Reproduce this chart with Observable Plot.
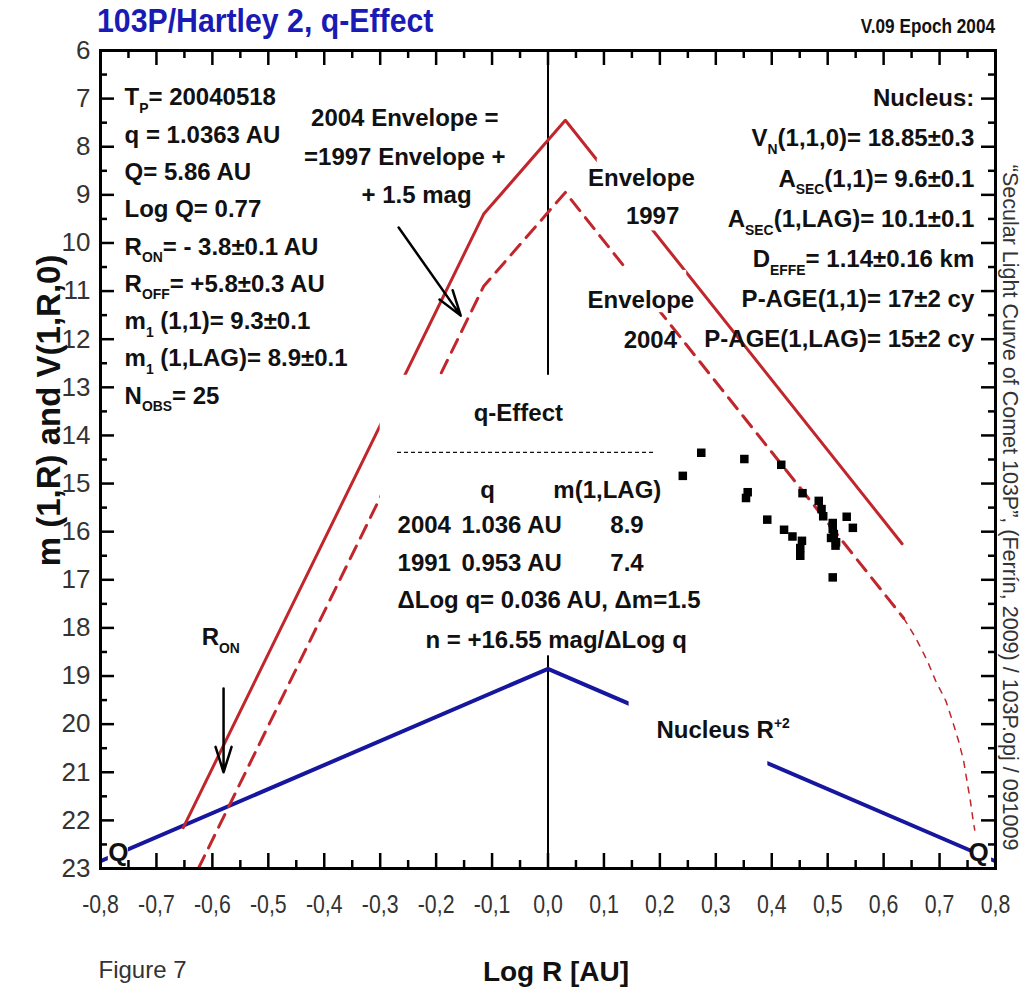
<!DOCTYPE html>
<html><head><meta charset="utf-8">
<script src="https://cdn.jsdelivr.net/npm/d3@7"></script>
<script src="https://cdn.jsdelivr.net/npm/@observablehq/plot@0.6"></script>
<style>
body{margin:0;background:#fff;width:1021px;height:999px;overflow:hidden;position:relative}
#head{position:absolute;left:0;top:0;width:1021px;height:40px;z-index:2;font-family:"Liberation Sans",Arial,sans-serif;pointer-events:none}
#title{position:absolute;left:97px;top:3px;font-size:34px;line-height:1;font-weight:bold;color:#1a1ab4;white-space:nowrap;transform:scaleX(0.89);transform-origin:0 0}
#ver{position:absolute;right:26px;top:16px;font-size:20px;line-height:1;font-weight:bold;color:#111;white-space:nowrap;transform:scaleX(0.86);transform-origin:100% 0}
</style></head><body>
<div id="head"><span id="title">103P/Hartley 2, q-Effect</span><span id="ver">V.09 Epoch 2004</span></div>
<div id="chart"></div>
<script>
// ---------- data ----------
const xTicks = [-0.8,-0.7,-0.6,-0.5,-0.4,-0.3,-0.2,-0.1,0,0.1,0.2,0.3,0.4,0.5,0.6,0.7,0.8];
const xMinorTicks = [-0.75,-0.65,-0.55,-0.45,-0.35,-0.25,-0.15,-0.05,0.05,0.15,0.25,0.35,0.45,0.55,0.65,0.75];
const yTicks = [6,7,8,9,10,11,12,13,14,15,16,17,18,19,20,21,22,23];
const yMinorTicks = [6.5,7.5,8.5,9.5,10.5,11.5,12.5,13.5,14.5,15.5,16.5,17.5,18.5,19.5,20.5,21.5,22.5];

const envelope1997 = [
  {x:-0.652, y:22.15}, {x:-0.115, y:9.40}, {x:0.031, y:7.45}, {x:0.633, y:16.25}
];
const envelope2004 = [
  {x:-0.625, y:23.0}, {x:-0.115, y:10.90}, {x:0.031, y:8.95}, {x:0.636, y:17.80}
];
const envelope2004Tail = [
  {x:0.636,y:17.80},{x:0.657,y:18.20},{x:0.678,y:18.68},{x:0.693,y:19.10},{x:0.711,y:19.51},
  {x:0.723,y:19.93},{x:0.734,y:20.35},{x:0.743,y:20.76},{x:0.749,y:21.18},{x:0.755,y:21.59},
  {x:0.761,y:22.08},{x:0.763,y:22.20}
];
const nucleusR2 = [ {x:-0.8, y:22.85}, {x:0, y:18.85}, {x:0.8, y:22.85} ];

const observations = [
  {x:0.241,y:14.84},{x:0.274,y:14.36},{x:0.351,y:14.49},{x:0.357,y:15.18},{x:0.354,y:15.30},
  {x:0.417,y:14.61},{x:0.392,y:15.75},{x:0.422,y:15.96},{x:0.437,y:16.10},{x:0.454,y:16.19},
  {x:0.451,y:16.34},{x:0.451,y:16.50},{x:0.455,y:15.20},{x:0.484,y:15.36},{x:0.489,y:15.53},
  {x:0.492,y:15.68},{x:0.509,y:15.82},{x:0.509,y:15.94},{x:0.506,y:16.13},{x:0.515,y:16.22},
  {x:0.514,y:16.29},{x:0.534,y:15.69},{x:0.545,y:15.92},{x:0.509,y:16.95},{x:0.511,y:16.05}
];

// ---------- annotation texts ----------
const leftInfo = ["T_{P}= 20040518","q = 1.0363 AU","Q= 5.86 AU","Log Q= 0.77","R_{ON}= - 3.8±0.1 AU",
  "R_{OFF}= +5.8±0.3 AU","m_{1} (1,1)= 9.3±0.1","m_{1} (1,LAG)= 8.9±0.1","N_{OBS}= 25"];
const rightInfo = ["Nucleus:","V_{N}(1,1,0)= 18.85±0.3","A_{SEC}(1,1)= 9.6±0.1","A_{SEC}(1,LAG)= 10.1±0.1",
  "D_{EFFE}= 1.14±0.16 km","P-AGE(1,1)= 17±2 cy","P-AGE(1,LAG)= 15±2 cy"];
const envNote = ["2004 Envelope =","=1997 Envelope +","+ 1.5 mag"];
const qTableHead = ["q","m(1,LAG)"];
const qTableRows = [
  {year:"2004", q:"1.036 AU", m:"8.9"},
  {year:"1991", q:"0.953 AU", m:"7.4"}
];
const qNotes = ["ΔLog q= 0.036 AU, Δm=1.5","n = +16.55 mag/ΔLog q"];

// annotation layout (data units)
const labelBoxes = [
  {x1:-0.30, x2:0.20, y1:12.75, y2:18.58},
  {x1:0.088, x2:0.255, y1:8.25, y2:9.75},
  {x1:0.088, x2:0.248, y1:10.57, y2:11.45},
  {x1:0.145, x2:0.393, y1:19.3, y2:21.0},
  {x1:-0.786, x2:-0.75, y1:22.3, y2:23.0},
  {x1:0.757, x2:0.793, y1:22.3, y2:23.0}
];
const arrows = [
  {x1:-0.267, y1:9.68, x2:-0.156, y2:11.51},
  {x1:-0.58, y1:19.26, x2:-0.58, y2:21.0}
];

const RED = "#c1262c", BLUE = "#16169e";
const FONT = '"Liberation Sans",Arial,sans-serif';
const W = 1021, H = 999, mL = 100, mR = 26, mT = 50, mB = 131;
const fw = W - mL - mR, fh = H - mT - mB;
const fmt = d => (Math.abs(d) < 1e-9 ? "0,0" : d.toFixed(1).replace(".", ","));
const bold = {fontFamily: FONT, fontWeight: "bold", fontSize: 24, fill: "#111", ariaLabel: "narrow"};

const plot = Plot.plot({
  width: W, height: H, marginLeft: mL, marginRight: mR, marginTop: mT, marginBottom: mB,
  style: {fontFamily: FONT, background: "#fff"},
  x: {domain: [-0.8, 0.8], axis: null},
  y: {domain: [6, 23], reverse: true, axis: null},
  marks: [
    Plot.ruleX([0], {stroke: "#000", strokeWidth: 2}),
    Plot.line(nucleusR2, {x: "x", y: "y", stroke: BLUE, strokeWidth: 4, clip: true}),
    Plot.line(envelope1997, {x: "x", y: "y", stroke: RED, strokeWidth: 3, clip: true}),
    Plot.line(envelope2004, {x: "x", y: "y", stroke: RED, strokeWidth: 3, strokeDasharray: "14,9", clip: true}),
    Plot.line(envelope2004Tail, {x: "x", y: "y", stroke: RED, strokeWidth: 1.5, strokeDasharray: "6,7", clip: true}),
    Plot.dot(observations, {x: "x", y: "y", symbol: "square", r: 4.8, fill: "#000", stroke: null}),
    Plot.rect(labelBoxes, {x1: "x1", x2: "x2", y1: "y1", y2: "y2", fill: "#fff"}),

    Plot.text(leftInfo, {x: () => -0.757, y: (d, i) => 6.98 + i * 0.775, text: d => d, textAnchor: "start", ...bold}),
    Plot.text(rightInfo, {x: () => 0.762, y: (d, i) => 7.0 + i * 0.835, text: d => d, textAnchor: "end", ...bold}),
    Plot.text(envNote, {x: (d, i) => [-0.256, -0.256, -0.235][i], y: (d, i) => 7.41 + i * 0.8, text: d => d, ...bold}),
    Plot.text(["Envelope", "1997"], {x: (d, i) => [0.167, 0.187][i], y: (d, i) => [8.66, 9.45][i], text: d => d, ...bold}),
    Plot.text(["Envelope", "2004"], {x: (d, i) => [0.166, 0.183][i], y: (d, i) => [11.2, 12.03][i], text: d => d, ...bold}),
    Plot.text(["q-Effect"], {x: () => -0.053, y: () => 13.54, text: d => d, ...bold}),
    Plot.ruleY([14.35], {x1: -0.269, x2: 0.192, stroke: "#111", strokeWidth: 1.3, strokeDasharray: "4,3"}),
    Plot.text(qTableHead, {x: (d, i) => [-0.108, 0.106][i], y: () => 15.14, text: d => d, ...bold}),
    Plot.text(qTableRows, {x: () => -0.269, y: (d, i) => 15.87 + i * 0.79, text: "year", textAnchor: "start", ...bold}),
    Plot.text(qTableRows, {x: () => -0.065, y: (d, i) => 15.87 + i * 0.79, text: "q", ...bold}),
    Plot.text(qTableRows, {x: () => 0.171, y: (d, i) => 15.87 + i * 0.79, text: "m", textAnchor: "end", ...bold}),
    Plot.text(qNotes, {x: (d, i) => [-0.269, -0.219][i], y: (d, i) => 17.43 + i * 0.83, text: d => d, textAnchor: "start", ...bold}),
    Plot.text(["R_{ON}"], {x: () => -0.585, y: () => 18.2, text: d => d, ...bold}),
    Plot.text(["Nucleus R^{+2}"], {x: () => 0.194, y: () => 20.13, text: d => d, textAnchor: "start", ...bold}),
    Plot.text(["Q", "Q"], {x: (d, i) => [-0.768, 0.7696][i], y: () => 22.67, text: d => d, ...bold, fontSize: 26}),

    Plot.arrow(arrows, {x1: "x1", y1: "y1", x2: "x2", y2: "y2", stroke: "#000", strokeWidth: 2.5, headLength: 16, headAngle: 35}),

    // inward ticks on all four sides
    Plot.ruleX(xTicks, {x: d => d, insetTop: fh - 15, stroke: "#000", strokeWidth: 2.5}),
    Plot.ruleX(xMinorTicks, {x: d => d, insetTop: fh - 8, stroke: "#000", strokeWidth: 2.5}),
    Plot.ruleX(xTicks, {x: d => d, insetBottom: fh - 15, stroke: "#000", strokeWidth: 2.5}),
    Plot.ruleX(xMinorTicks, {x: d => d, insetBottom: fh - 8, stroke: "#000", strokeWidth: 2.5}),
    Plot.ruleY(yTicks, {y: d => d, insetRight: fw - 14, stroke: "#000", strokeWidth: 2.5}),
    Plot.ruleY(yMinorTicks, {y: d => d, insetRight: fw - 7, stroke: "#000", strokeWidth: 2.5}),
    Plot.ruleY(yTicks, {y: d => d, insetLeft: fw - 14, stroke: "#000", strokeWidth: 2.5}),
    Plot.ruleY(yMinorTicks, {y: d => d, insetLeft: fw - 7, stroke: "#000", strokeWidth: 2.5}),
    Plot.frame({stroke: "#000", strokeWidth: 3}),

    Plot.axisX(xTicks, {tickSize: 0, tickPadding: 26, tickFormat: fmt, fontSize: 26, fontFamily: FONT, fill: "#333", label: null}),
    Plot.axisY(yTicks, {tickSize: 0, tickPadding: 10, fontSize: 26, fontFamily: FONT, fill: "#333", label: null}),

    Plot.text(["m (1,R) and V(1,R,0)"], {x: () => -0.8, y: () => 13.48, dx: -51, rotate: -90, textAnchor: "middle", fontFamily: FONT, fontWeight: "bold", fontSize: 33, fill: "#111"}),
    Plot.text(["Log R [AU]"], {frameAnchor: "bottom", lineAnchor: "middle", dx: 8, dy: 104, fontFamily: FONT, fontWeight: "bold", fontSize: 28, fill: "#111", ariaLabel: "narrow"}),
    Plot.text(["Figure 7"], {frameAnchor: "bottom-left", lineAnchor: "middle", textAnchor: "start", dx: -2, dy: 102, fontFamily: FONT, fontSize: 24, fill: "#333", ariaLabel: "narrow"}),
    Plot.text(["\u201CSecular Light Curve of Comet 103P\u201D, (Ferrín, 2009) / 103P.opj / 091009"],
      {x: () => 0.8, y: () => 15.5, dx: 14, rotate: 90, fontFamily: FONT, fontSize: 21.5, fill: "#333"})
  ]
});
document.getElementById("chart").appendChild(plot);

// render _{sub} and ^{sup} markup as tspans
const ns = "http://www.w3.org/2000/svg";
plot.querySelectorAll("text").forEach(t => {
  const s = t.textContent;
  if (!/[_^]\{/.test(s) || t.querySelector("tspan")) return;
  const fs = parseFloat(getComputedStyle(t).fontSize) || 24;
  t.textContent = "";
  const re = /([_^])\{([^}]*)\}/g;
  let last = 0, m, shift = 0, first = true;
  const addNormal = str => {
    if (!str) return;
    if (first && shift === 0) { t.appendChild(document.createTextNode(str)); }
    else { const sp = document.createElementNS(ns, "tspan"); if (shift) sp.setAttribute("dy", -shift); sp.textContent = str; t.appendChild(sp); shift = 0; }
    first = false;
  };
  while ((m = re.exec(s))) {
    addNormal(s.slice(last, m.index));
    const sp = document.createElementNS(ns, "tspan");
    const off = m[1] === "_" ? 0.32 * fs : -0.42 * fs;
    sp.setAttribute("dy", off - shift);
    shift = off;
    sp.setAttribute("font-size", (0.58 * fs).toFixed(1));
    sp.textContent = m[2];
    t.appendChild(sp);
    first = false;
    last = re.lastIndex;
  }
  addNormal(s.slice(last));
});

// condensed ("narrow") lettering: squeeze glyphs horizontally about each text's anchor
function squeeze(texts, k) {
  texts.forEach(t => {
    const tr = t.getAttribute("transform");
    if (tr) { t.setAttribute("transform", tr + ` scale(${k},1)`); return; }
    const x = t.getAttribute("x");
    if (x != null && !isNaN(+x)) {
      const y = t.getAttribute("y");
      t.removeAttribute("x");
      let ty = 0;
      if (y != null && !isNaN(+y)) { ty = +y; t.removeAttribute("y"); }
      t.setAttribute("transform", `translate(${x},${ty}) scale(${k},1)`);
    } else {
      t.setAttribute("transform", `scale(${k},1)`);
    }
  });
}
squeeze(plot.querySelectorAll('g[aria-label="narrow"] text'), 0.82);
squeeze(plot.querySelectorAll('g[aria-label="x-axis tick label"] text'), 0.82);
</script>
</body></html>
